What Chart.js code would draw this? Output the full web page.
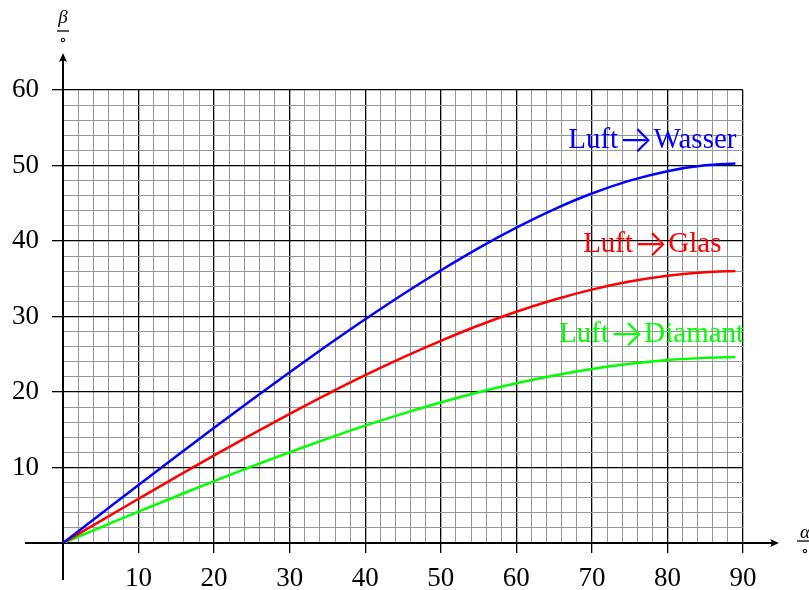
<!DOCTYPE html>
<html>
<head>
<meta charset="utf-8">
<script src="https://cdn.jsdelivr.net/npm/chart.js@4"></script>
<style>
html, body { margin: 0; padding: 0; background: #fff; }
</style>
</head>
<body>
<canvas id="chart" width="809" height="590"></canvas>
<script>
// Einfallswinkel alpha in Grad
const alpha = [0, 5, 10, 15, 20, 25, 30, 35, 40, 45, 50, 55, 60, 65, 70, 75, 80, 85, 89];
// Brechungswinkel beta in Grad
const betaWasser = [0, 3.84, 7.68, 11.48, 15.25, 18.97, 22.62, 26.18, 29.63, 32.95, 36.10, 39.06, 41.77, 44.20, 46.29, 47.99, 49.25, 50.02, 50.28];
const betaGlas = [0, 2.94, 5.86, 8.76, 11.61, 14.39, 17.10, 19.72, 22.22, 24.58, 26.78, 28.81, 30.63, 32.22, 33.56, 34.63, 35.40, 35.87, 36.03];
const betaDiamant = [0, 2.08, 4.15, 6.19, 8.19, 10.14, 12.02, 13.83, 15.54, 17.14, 18.61, 19.96, 21.15, 22.19, 23.05, 23.73, 24.23, 24.52, 24.62];

const seriesFrom = ['Luft', 'Luft', 'Luft'];
const seriesTo = ['Wasser', 'Glas', 'Diamant'];
const seriesColors = ['#0000ff', '#ff0000', '#00ff00'];
const nameAt = [[78, 52.3], [78, 38.5], [77.9, 26.6]];

const xTicks = [10, 20, 30, 40, 50, 60, 70, 80, 90];
const yTicks = [10, 20, 30, 40, 50, 60];

const serif = "'Liberation Serif', 'DejaVu Serif', serif";

function toPoints(ys) {
  return alpha.map((a, i) => ({ x: a, y: ys[i] }));
}

const gridColor = ctx => (ctx.tick.value % 10 === 0 ? '#000' : 'rgb(150,150,150)');
const gridWidth = ctx => (ctx.tick.value % 10 === 0 ? 1.3 : 1);
const tickColor = ctx => (ctx.tick.value % 10 === 0 && ctx.tick.value !== 0 ? '#000' : 'rgba(0,0,0,0)');

function arrowHead(ctx, x, y, dir) {
  ctx.save();
  ctx.translate(x, y);
  if (dir === 'up') ctx.rotate(-Math.PI / 2);
  ctx.beginPath();
  ctx.moveTo(0, 0);
  ctx.lineTo(-9, -4);
  ctx.quadraticCurveTo(-6, 0, -9, 4);
  ctx.closePath();
  ctx.fillStyle = '#000';
  ctx.fill();
  ctx.restore();
}

// "Luft→Wasser" in drei Stücken, damit der Pfeil breit und dünn wie in TeX wird
function drawName(ctx, from, to, cx, baseline, color) {
  const wordFont = '29px ' + serif;
  const arrowFont = "300 37px Inter, 'DejaVu Sans'";
  ctx.font = wordFont;
  const w1 = ctx.measureText(from).width;
  const w3 = ctx.measureText(to).width;
  ctx.font = arrowFont;
  const w2 = ctx.measureText('→').width;
  let x = cx - (w1 + w2 + w3) / 2;
  ctx.fillStyle = color;
  ctx.textAlign = 'left';
  ctx.font = wordFont;
  ctx.textBaseline = 'alphabetic';
  ctx.fillText(from, x, baseline);
  x += w1;
  ctx.font = arrowFont;
  ctx.textBaseline = 'middle';
  ctx.fillText('→', x, baseline - 7);
  x += w2;
  ctx.font = wordFont;
  ctx.textBaseline = 'alphabetic';
  ctx.fillText(to, x, baseline);
}

const axesPlugin = {
  id: 'axes',
  beforeDatasetsDraw(chart) {
    const ctx = chart.ctx;
    const xs = chart.scales.x, ys = chart.scales.y;
    const x0 = xs.getPixelForValue(0), y0 = ys.getPixelForValue(0);
    ctx.save();
    ctx.strokeStyle = '#000';
    ctx.lineWidth = 2;
    ctx.beginPath();
    ctx.moveTo(25, y0);
    ctx.lineTo(772, y0);
    ctx.moveTo(x0, 580);
    ctx.lineTo(x0, 60);
    ctx.stroke();
    arrowHead(ctx, 779, y0, 'right');
    arrowHead(ctx, x0, 53, 'up');
    ctx.restore();
  },
  afterDraw(chart) {
    const ctx = chart.ctx;
    const xs = chart.scales.x, ys = chart.scales.y;
    ctx.save();
    seriesTo.forEach((n, i) => {
      drawName(ctx, seriesFrom[i], n, xs.getPixelForValue(nameAt[i][0]), ys.getPixelForValue(nameAt[i][1]), seriesColors[i]);
    });
    // Achsenbeschriftungen als Bruch
    ctx.fillStyle = '#000';
    ctx.strokeStyle = '#000';
    ctx.lineWidth = 1.3;
    ctx.textAlign = 'center';
    const x0 = xs.getPixelForValue(0);
    ctx.font = 'italic 19px ' + serif;
    ctx.textBaseline = 'middle';
    ctx.fillText('β', x0, 18);
    ctx.beginPath();
    ctx.moveTo(x0 - 6, 31);
    ctx.lineTo(x0 + 6, 31);
    ctx.stroke();
    ctx.font = '16px ' + serif;
    ctx.fillText('∘', x0, 41);
    ctx.font = 'italic 19px ' + serif;
    ctx.fillText('α', 805, 533);
    ctx.beginPath();
    ctx.moveTo(797, 541);
    ctx.lineTo(812, 541);
    ctx.stroke();
    ctx.font = '16px ' + serif;
    ctx.fillText('∘', 805, 552);
    ctx.restore();
  }
};

new Chart(document.getElementById('chart').getContext('2d'), {
  type: 'line',
  data: {
    datasets: [betaWasser, betaGlas, betaDiamant].map((ys, i) => ({
      label: seriesFrom[i] + '→' + seriesTo[i],
      data: toPoints(ys),
      borderColor: seriesColors[i],
      borderWidth: 2.5,
      pointRadius: 0,
      cubicInterpolationMode: 'monotone',
      fill: false
    }))
  },
  options: {
    responsive: false,
    animation: false,
    devicePixelRatio: 1,
    layout: { padding: { top: 90, right: 66, left: 0, bottom: 0 } },
    plugins: { legend: { display: false }, tooltip: { enabled: false }, title: { display: false } },
    scales: {
      x: {
        type: 'linear',
        min: 0,
        max: 90,
        afterFit: s => { s.height = 47; },
        border: { display: false },
        grid: { color: gridColor, lineWidth: gridWidth, tickColor: tickColor, tickLength: 10, tickWidth: 1.3 },
        ticks: {
          stepSize: 2,
          autoSkip: false,
          maxRotation: 0,
          padding: 10,
          color: '#000',
          font: { family: serif, size: 27 },
          callback: v => (xTicks.includes(v) ? String(v) : '')
        }
      },
      y: {
        type: 'linear',
        min: 0,
        max: 60,
        afterFit: s => { s.width = 63; },
        border: { display: false },
        grid: { color: gridColor, lineWidth: gridWidth, tickColor: tickColor, tickLength: 11, tickWidth: 1.3 },
        ticks: {
          stepSize: 2,
          autoSkip: false,
          padding: 13,
          color: '#000',
          font: { family: serif, size: 27 },
          callback: v => (yTicks.includes(v) ? String(v) : '')
        }
      }
    }
  },
  plugins: [axesPlugin]
});
</script>
</body>
</html>
